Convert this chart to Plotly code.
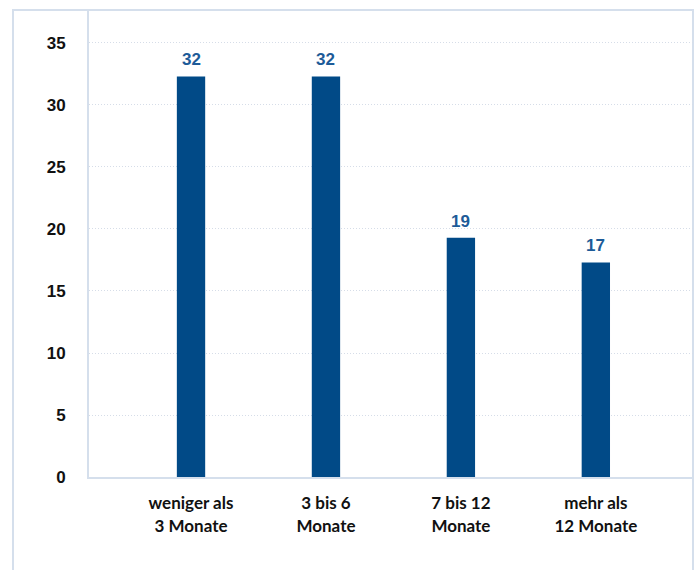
import plotly.graph_objects as go

# Dauer der Arbeitslosigkeit – Anteile in Prozent
categories = ["weniger als<br>3 Monate", "3 bis 6<br>Monate", "7 bis 12<br>Monate", "mehr als<br>12 Monate"]
values = [32.3, 32.3, 19.3, 17.3]
y_ticks = [0, 5, 10, 15, 20, 25, 30, 35]

BAR = "#014a87"
LABEL = "#1d5b98"
LINE = "#d5dfec"
GRID = "#d6dde8"

positions = list(range(len(categories)))

fig = go.Figure(
    go.Bar(
        x=positions,
        y=values,
        width=0.21,
        marker=dict(color=BAR, line=dict(width=0)),
    )
)

# value labels above each bar
for pos, val in zip(positions, values):
    fig.add_annotation(
        x=pos,
        y=val,
        text=f"{val:.0f}",
        showarrow=False,
        yanchor="bottom",
        yshift=5,
        font=dict(family="Liberation Sans", size=17, color=LABEL, weight="bold"),
    )

fig.update_layout(
    width=697,
    height=570,
    margin=dict(l=89, r=4, t=10, b=93),
    paper_bgcolor="white",
    plot_bgcolor="white",
    showlegend=False,
    xaxis=dict(
        range=[-0.756, 3.72],
        tickmode="array",
        tickvals=positions,
        ticktext=categories,
        tickfont=dict(family="Lato", size=17, color="#111111", weight="bold"),
        showgrid=False,
        zeroline=False,
        showline=True,
        linecolor=LINE,
        linewidth=2,
        ticks="",
        ticklabelstandoff=10,
    ),
    yaxis=dict(
        range=[0, 37.66],
        tickmode="array",
        tickvals=y_ticks,
        tickfont=dict(family="Liberation Sans", size=17, color="#111111", weight="bold"),
        showgrid=True,
        gridcolor=GRID,
        griddash="1px,2px",
        gridwidth=1,
        zeroline=False,
        showline=True,
        linecolor=LINE,
        linewidth=2,
        ticks="",
        ticklabelstandoff=18,
    ),
    shapes=[
        # outer frame around the chart
        dict(
            type="rect",
            xref="paper",
            yref="paper",
            x0=-0.1258,
            x1=1.0,
            y0=-0.5,
            y1=1.0,
            line=dict(color=LINE, width=2),
            fillcolor="rgba(0,0,0,0)",
            layer="below",
        )
    ],
)

fig.write_html("out.html")
